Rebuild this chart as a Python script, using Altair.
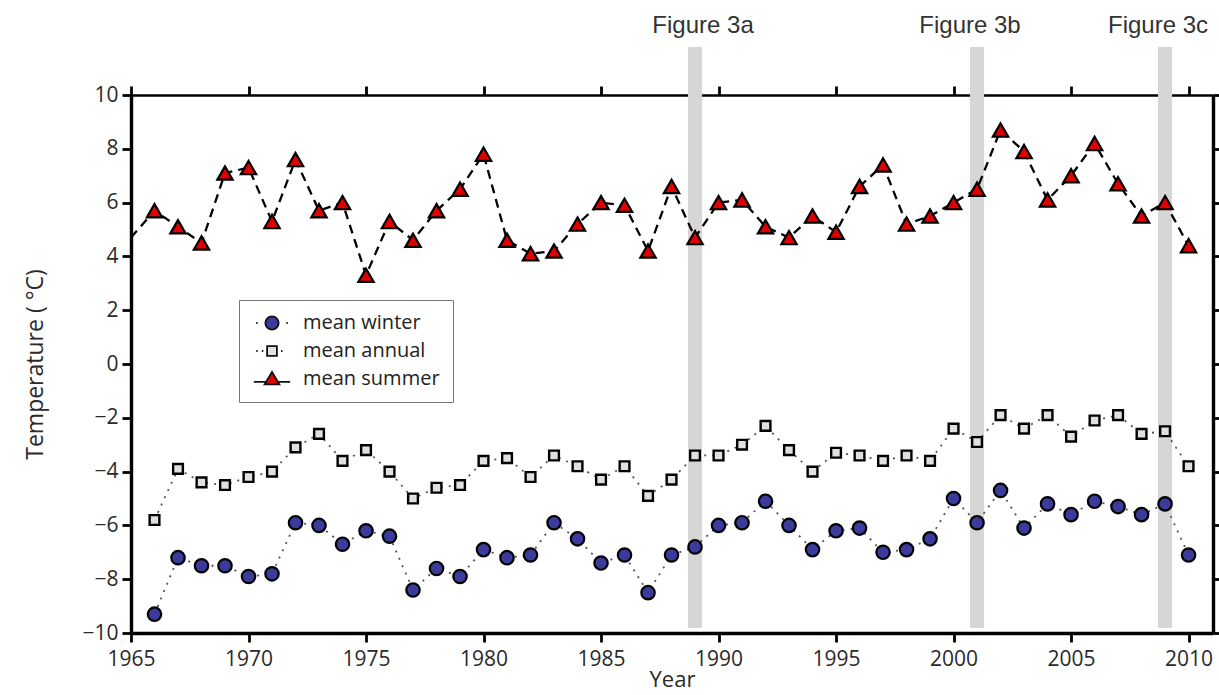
import altair as alt
import pandas as pd

# ---------------- data ----------------
years = list(range(1966, 2011))
winter = [-9.3, -7.2, -7.5, -7.5, -7.9, -7.8, -5.9, -6.0, -6.7, -6.2,
          -6.4, -8.4, -7.6, -7.9, -6.9, -7.2, -7.1, -5.9, -6.5, -7.4,
          -7.1, -8.5, -7.1, -6.8, -6.0, -5.9, -5.1, -6.0, -6.9, -6.2,
          -6.1, -7.0, -6.9, -6.5, -5.0, -5.9, -4.7, -6.1, -5.2, -5.6,
          -5.1, -5.3, -5.6, -5.2, -7.1]
annual = [-5.8, -3.9, -4.4, -4.5, -4.2, -4.0, -3.1, -2.6, -3.6, -3.2,
          -4.0, -5.0, -4.6, -4.5, -3.6, -3.5, -4.2, -3.4, -3.8, -4.3,
          -3.8, -4.9, -4.3, -3.4, -3.4, -3.0, -2.3, -3.2, -4.0, -3.3,
          -3.4, -3.6, -3.4, -3.6, -2.4, -2.9, -1.9, -2.4, -1.9, -2.7,
          -2.1, -1.9, -2.6, -2.5, -3.8]
summer = [5.7, 5.1, 4.5, 7.1, 7.3, 5.3, 7.6, 5.7, 6.0, 3.3,
          5.3, 4.6, 5.7, 6.5, 7.8, 4.6, 4.1, 4.2, 5.2, 6.0,
          5.9, 4.2, 6.6, 4.7, 6.0, 6.1, 5.1, 4.7, 5.5, 4.9,
          6.6, 7.4, 5.2, 5.5, 6.0, 6.5, 8.7, 7.9, 6.1, 7.0,
          8.2, 6.7, 5.5, 6.0, 4.4]
summer_line_start_year = 1965      # line enters from the left edge, no marker
summer_line_start_value = 4.7

band_years = [1989, 2001, 2009]
band_half_width = 0.3
band_labels = ["Figure 3a", "Figure 3b", "Figure 3c"]
band_label_years = [1989.34, 2000.70, 2008.70]

series_names = ["mean winter", "mean annual", "mean summer"]
series_fills = ["#3b3b9c", "#e0e0e0", "#e10000"]
series_strokes = ["#111111", "#111111", "#111111"]

x_ticks = [1965, 1970, 1975, 1980, 1985, 1990, 1995, 2000, 2005, 2010]
y_ticks = [-10, -8, -6, -4, -2, 0, 2, 4, 6, 8, 10]
x_domain = [1965, 2011.04]
y_domain = [-10, 10]

# ---------------- tables ----------------
df_w = pd.DataFrame({"year": years, "temp": winter})
df_a = pd.DataFrame({"year": years, "temp": annual})
df_s = pd.DataFrame({"year": years, "temp": summer})
df_s_line = pd.DataFrame({"year": [summer_line_start_year] + years,
                          "temp": [summer_line_start_value] + summer})
df_bands = pd.DataFrame({"x0": [y - band_half_width for y in band_years],
                         "x1": [y + band_half_width for y in band_years]})
df_band_text = pd.DataFrame({"year": band_label_years, "label": band_labels})
df_leg = pd.DataFrame({"series": series_names})

W, H = 1082, 538
xs = alt.Scale(domain=x_domain, nice=False, zero=False)
ys = alt.Scale(domain=y_domain, nice=False, zero=False)

FONT = "Open Sans"
AX = dict(grid=False, domainColor="black", domainWidth=3.4, tickColor="black",
          tickWidth=2.8, tickSize=9, labelFont=FONT, labelFontSize=21,
          labelColor="#2a2a2a", titleFont=FONT, titleFontSize=22,
          titleColor="#2a2a2a", titleFontWeight="normal", labelFlush=False)

# legend symbols: marker + connecting line pieces (unit = sqrt(size)/2 px)
circle_path = ("M-0.95,0A0.95,0.95 0 1,0 0.95,0A0.95,0.95 0 1,0 -0.95,0Z"
               "M-2.25,0L-2.05,0M2.05,0L2.25,0")
square_path = ("M-0.7,-0.7L0.7,-0.7L0.7,0.7L-0.7,0.7Z"
               "M-2.25,0L-2.05,0M-1.45,0L-1.25,0M1.3,0L1.5,0")
tri_path = ("M0,-1L1.05,0.75L-1.05,0.75Z"
            "M-2.6,0.4L-0.8,0.4M0.8,0.4L2.6,0.4")

# ---------------- layers ----------------
bands = alt.Chart(df_bands).mark_rect(color="#d6d6d4").encode(
    x=alt.X("x0:Q", scale=xs, axis=None),
    x2="x1:Q",
    y=alt.value(-48),
    y2=alt.value(533),
)

band_text = alt.Chart(df_band_text).mark_text(
    font="Liberation Sans", fontSize=24, color="#333333", baseline="alphabetic"
).encode(
    x=alt.X("year:Q", scale=xs, axis=None),
    y=alt.value(-62),
    text="label:N",
)

line_w = alt.Chart(df_w).mark_line(color="#555555", strokeWidth=1.8,
                                   strokeDash=[2, 6]).encode(
    x=alt.X("year:Q", scale=xs, axis=None),
    y=alt.Y("temp:Q", scale=ys, axis=None),
)

# annual line carries the top / right axes (no labels)
line_a = alt.Chart(df_a).mark_line(color="#555555", strokeWidth=1.8,
                                   strokeDash=[2, 6]).encode(
    x=alt.X("year:Q", scale=xs,
            axis=alt.Axis(orient="top", values=x_ticks, labels=False,
                          title=None, **{**AX, "domainWidth": 2.6})),
    y=alt.Y("temp:Q", scale=ys,
            axis=alt.Axis(orient="right", values=y_ticks, labels=False,
                          title=None, **AX)),
)

# summer line carries the bottom / left axes
line_s = alt.Chart(df_s_line).mark_line(color="black", strokeWidth=2.3,
                                        strokeDash=[9, 6]).encode(
    x=alt.X("year:Q", scale=xs,
            axis=alt.Axis(orient="bottom", values=x_ticks, format="d",
                          title="Year", titlePadding=0, labelPadding=6, **AX)),
    y=alt.Y("temp:Q", scale=ys,
            axis=alt.Axis(orient="left", values=y_ticks, title="Temperature ( °C)",
                          titlePadding=34, labelPadding=4,
                          **{**AX, "titleFontSize": 23})),
)

pts_w = alt.Chart(df_w).mark_point(shape="circle", filled=True, fill=series_fills[0],
                                   stroke="black", strokeWidth=2.2, size=180,
                                   opacity=1).encode(
    x=alt.X("year:Q", scale=xs, axis=None),
    y=alt.Y("temp:Q", scale=ys, axis=None),
)
pts_a = alt.Chart(df_a).mark_point(shape="square", filled=True, fill=series_fills[1],
                                   stroke="black", strokeWidth=2.4, size=95,
                                   opacity=1).encode(
    x=alt.X("year:Q", scale=xs, axis=None),
    y=alt.Y("temp:Q", scale=ys, axis=None),
)
pts_s = alt.Chart(df_s).mark_point(shape="triangle-up", filled=True, fill=series_fills[2],
                                   stroke="black", strokeWidth=2.2, size=235,
                                   opacity=1).encode(
    x=alt.X("year:Q", scale=xs, axis=None),
    y=alt.Y("temp:Q", scale=ys, axis=None),
)

leg_props = dict(
    title=None, orient="none", legendX=108, legendY=205,
    padding=13, rowPadding=7, symbolSize=196, symbolOffset=10, labelOffset=21,
    strokeColor="#777777", fillColor="white",
    labelFont=FONT, labelFontSize=20, labelColor="#222222",
    symbolStrokeWidth=1.8, symbolOpacity=1,
)
legend_layer = alt.Chart(df_leg).mark_point(filled=True, strokeWidth=2).encode(
    shape=alt.Shape("series:N",
                    scale=alt.Scale(domain=series_names,
                                    range=[circle_path, square_path, tri_path]),
                    legend=alt.Legend(**leg_props)),
    fill=alt.Fill("series:N",
                  scale=alt.Scale(domain=series_names, range=series_fills),
                  legend=alt.Legend(**leg_props)),
    stroke=alt.Stroke("series:N",
                      scale=alt.Scale(domain=series_names, range=series_strokes),
                      legend=alt.Legend(**leg_props)),
    opacity=alt.value(0),
)

chart = alt.layer(
    bands, band_text, line_w, line_a, line_s, pts_w, pts_a, pts_s, legend_layer
).resolve_axis(x="independent", y="independent").properties(
    width=W, height=H,
    autosize=alt.AutoSizeParams(type="none"),
    padding={"left": 131, "top": 95, "right": 6, "bottom": 62},
).configure_view(stroke=None)

chart.save("out.html", embed_options={"renderer": "svg", "actions": False})
